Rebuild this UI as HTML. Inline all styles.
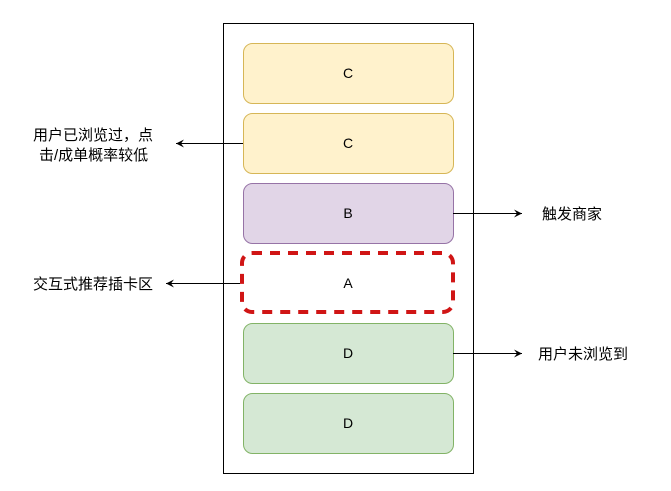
<!DOCTYPE html>
<html><head><meta charset="utf-8"><style>
html,body{margin:0;padding:0;background:#fff;width:671px;height:491px;overflow:hidden}
</style></head><body>
<svg width="671" height="491" xmlns="http://www.w3.org/2000/svg" font-family="Liberation Sans, Noto Sans CJK SC, sans-serif" font-size="13">
<defs><marker id="ar" markerWidth="10" markerHeight="10" refX="8" refY="5" orient="auto" markerUnits="userSpaceOnUse"><path d="M0,1 L8,5 L0,9 L3,5 z" fill="#000"/></marker></defs>
<rect x="223.5" y="23.5" width="250" height="450" fill="#fff" stroke="#000" stroke-width="1"/>
<rect x="243.5" y="43.5" width="210" height="60" rx="9" fill="#fff2cc" stroke="#d6b656"/>
<rect x="243.5" y="113.5" width="210" height="60" rx="9" fill="#fff2cc" stroke="#d6b656"/>
<rect x="243.5" y="183.5" width="210" height="60" rx="9" fill="#e1d5e7" stroke="#9673a6"/>
<rect x="242" y="253" width="211" height="59" rx="10" fill="#fff" stroke="#d01515" stroke-width="4" stroke-dasharray="10,8"/>
<rect x="243.5" y="323.5" width="210" height="60" rx="9" fill="#d5e8d4" stroke="#82b366"/>
<rect x="243.5" y="393.5" width="210" height="60" rx="9" fill="#d5e8d4" stroke="#82b366"/>
<g text-anchor="middle" font-size="14">
<text x="348" y="78">C</text><text x="348" y="148">C</text><text x="348" y="218">B</text>
<text x="348" y="288">A</text><text x="348" y="358">D</text><text x="348" y="428">D</text>
</g>
<line x1="243" y1="143.5" x2="176" y2="143.5" stroke="#000" marker-end="url(#ar)"/>
<line x1="453" y1="213.5" x2="522" y2="213.5" stroke="#000" marker-end="url(#ar)"/>
<line x1="240" y1="283.5" x2="166" y2="283.5" stroke="#000" marker-end="url(#ar)"/>
<line x1="453" y1="353.5" x2="522" y2="353.5" stroke="#000" marker-end="url(#ar)"/>
<g font-size="15">
<text x="33" y="140">用户已浏览过，点</text>
<text x="39" y="160">击/成单概率较低</text>
<text x="542" y="219">触发商家</text>
<text x="33" y="289">交互式推荐插卡区</text>
<text x="538" y="359">用户未浏览到</text>
</g>
</svg>
</body></html>
